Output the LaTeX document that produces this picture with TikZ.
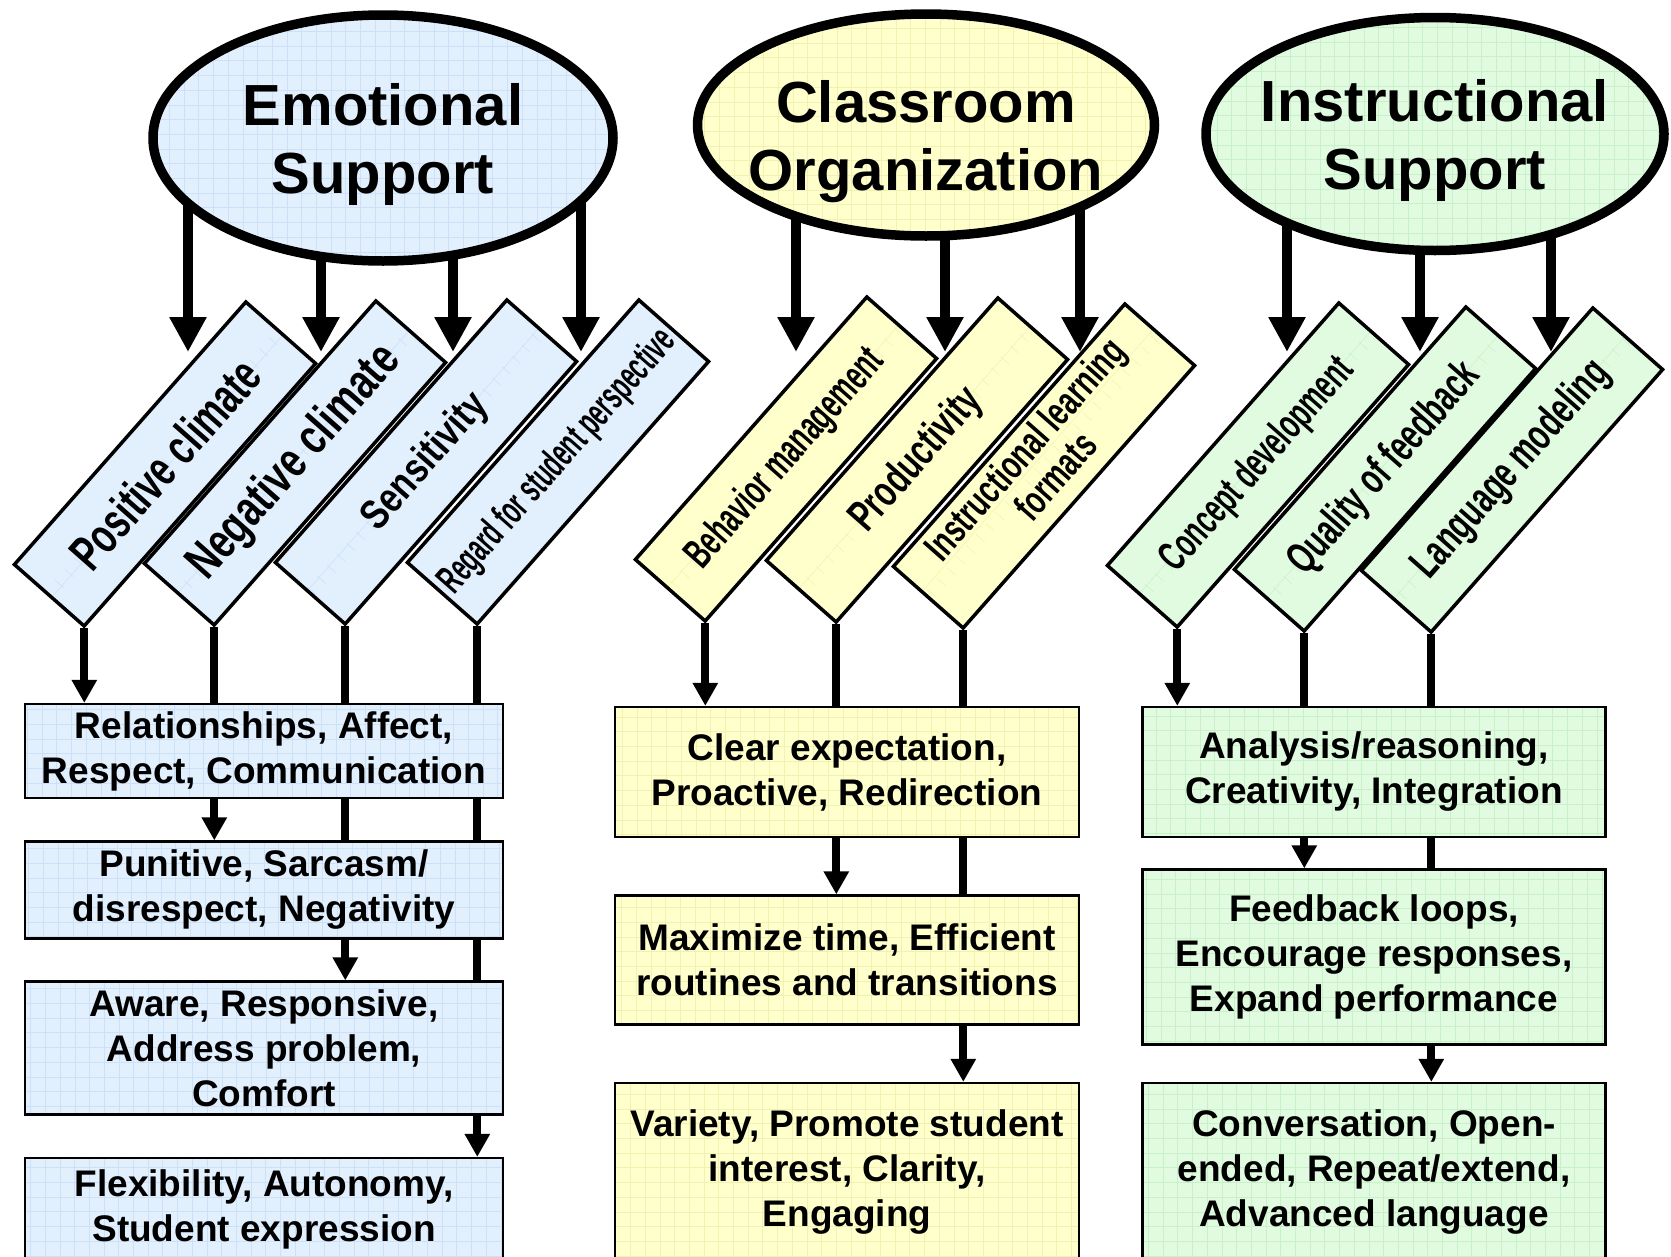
\documentclass[tikz,border=0pt]{standalone}
\usepackage{fontspec}
\setmainfont{Liberation Sans}
\usepackage{graphicx}
\usetikzlibrary{arrows.meta,positioning,shapes.geometric,backgrounds}

\definecolor{esfill}{HTML}{E2EFFD}
\definecolor{esgrid}{HTML}{CCE0F8}
\definecolor{cofill}{HTML}{FFFFCC}
\definecolor{cogrid}{HTML}{F1F1B4}
\definecolor{isfill}{HTML}{E1FBE1}
\definecolor{isgrid}{HTML}{CAF0CA}

\newcommand{\titlefont}{\bfseries\fontsize{58}{68}\selectfont}
\newcommand{\boxfont}{\bfseries\fontsize{37}{45}\selectfont}
\newcommand{\narrow}[3]{\bfseries\fontsize{#1}{#1}\selectfont\scalebox{#2}[1]{#3}}

\begin{document}
\begin{tikzpicture} [
	x=1pt, y=-1pt,
	tinted/.style = {fill=#1fill, path picture={
		\draw[#1grid, line width=0.5pt, step=14.7pt]
			(path picture bounding box.south west) grid (path picture bounding box.north east);}},
	topic/.style = {ellipse, draw, line width=9.5pt, inner xsep=-60pt, inner ysep=0pt,
		align=center, font=\titlefont, text depth=0pt},
	facet/.style = {draw, line width=3.5pt, rotate=48.6, minimum width=350pt,
		minimum height=93pt, inner sep=0pt},
	marker/.style = {draw, line width=2.2pt, inner sep=0pt, align=center, font=\boxfont},
	bigarrow/.style = {line width=10.5pt, -{Triangle[width=35pt,length=35pt]}},
	link/.style = {line width=8pt, -{Triangle[width=24pt,length=23pt]}},
]
\useasboundingbox (0,0) rectangle (1671,1256);
\coordinate (tips) at (0,352);

\node [topic, tinted=es, minimum width=460pt, minimum height=246pt] (es) at (383,138) {Emotional\\Support};
\node [topic, tinted=co, minimum width=457pt, minimum height=222pt, text height=130pt] (co) at (926,125) {Classroom\\Organization};
\node [topic, tinted=is, minimum width=458pt, minimum height=233pt] (is) at (1435,134) {Instructional\\Support};

\node [facet, tinted=es] (pc) at (165,464) {\narrow{50}{.69}{Positive climate}};
\node [facet, tinted=es] (nc) at (295,463) {\narrow{50}{.745}{Negative climate}};
\node [facet, tinted=es] (se) at (426,462) {\narrow{42}{.8}{Sensitivity}};
\node [facet, tinted=es] (rs) at (558,462) {\narrow{40}{.57}{Regard for student perspective}};
\node [facet, tinted=co] (bm) at (786,459) {\narrow{42}{.615}{Behavior management}};
\node [facet, tinted=co] (pr) at (917,460) {\narrow{44}{.69}{Productivity}};
\node [facet, tinted=co] (il) at (1044,466) {\narrow{40}{.69}{\begin{tabular}{@{}c@{}}Instructional learning\\formats\end{tabular}}};
\node [facet, tinted=is] (cd) at (1258,465) {\narrow{42}{.615}{Concept development}};
\node [facet, tinted=is] (qf) at (1385,469) {\narrow{44}{.656}{Quality of feedback}};
\node [facet, tinted=is] (lm) at (1512,470) {\narrow{44}{.66}{Language modeling}};

\node [marker, tinted=es, minimum width=478pt, minimum height=94pt] (rel) at (264,751) {Relationships, Affect,\\Respect, Communication};
\node [marker, tinted=es, minimum width=478pt, minimum height=97pt] (pun) at (264,890) {Punitive, Sarcasm/\\disrespect, Negativity};
\node [marker, tinted=es, minimum width=478pt, minimum height=133pt] (awa) at (264,1048) {Aware, Responsive,\\Address problem,\\Comfort};
\node [marker, tinted=es, minimum width=478pt, minimum height=102pt] (fle) at (264,1209) {Flexibility, Autonomy,\\Student expression};
\node [marker, tinted=co, minimum width=464pt, minimum height=130pt] (cle) at (847,772) {Clear expectation,\\Proactive, Redirection};
\node [marker, tinted=co, minimum width=464pt, minimum height=129pt] (mtm) at (847,960) {Maximize time, Efficient\\routines and transitions};
\node [marker, tinted=co, minimum width=464pt, minimum height=178pt] (vpr) at (847,1172) {Variety, Promote student\\interest, Clarity,\\Engaging};
\node [marker, tinted=is, minimum width=463pt, minimum height=130pt] (ana) at (1374,772) {Analysis/reasoning,\\Creativity, Integration};
\node [marker, tinted=is, minimum width=463pt, minimum height=175pt] (fbl) at (1374,957) {Feedback loops,\\Encourage responses,\\Expand performance};
\node [marker, tinted=is, minimum width=463pt, minimum height=178pt] (cnv) at (1374,1172) {Conversation, Open-\\ended, Repeat/extend,\\Advanced language};

\begin{scope}[on background layer]
	\foreach \dom/\dx in {es/-195,es/-62,es/70,es/198,co/-130,co/19,co/154,is/-148,is/-15,is/116} {
		\path ([xshift=\dx pt]\dom.center) coordinate (root);
		\draw [bigarrow] (root) -- (root |- tips);
	}
	\foreach \src/\dst in {pc/rel,nc/pun,se/awa,rs/fle,bm/cle,pr/mtm,il/vpr,cd/ana,qf/fbl,lm/cnv}
		\draw [link] (\src.south west) -- (\src.south west |- \dst.north);
\end{scope}
\end{tikzpicture}
\end{document}
